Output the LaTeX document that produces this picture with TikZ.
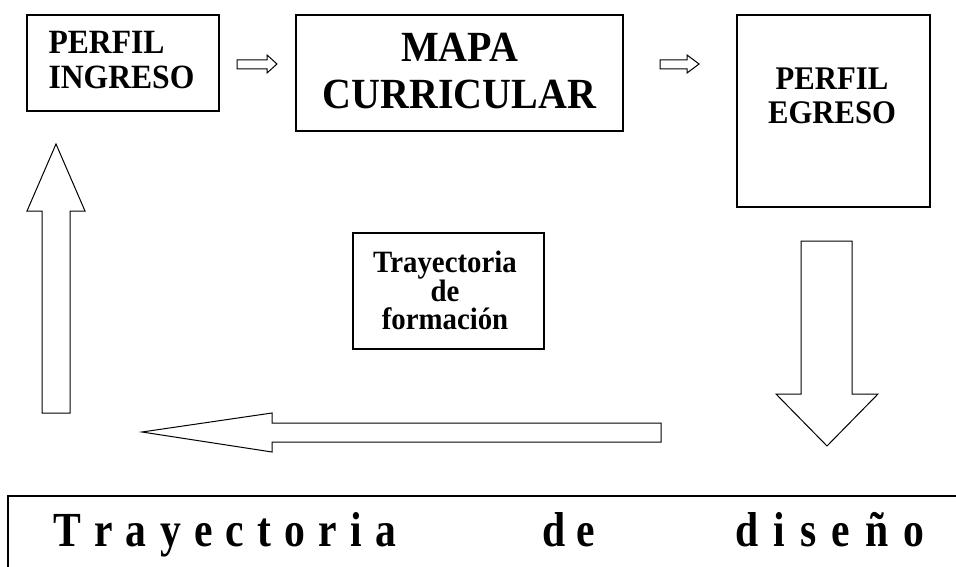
\documentclass[tikz,border=0pt]{standalone}
\usepackage{fontspec}
\setmainfont{Liberation Serif}[FakeStretch=0.93]
\newfontfamily\condfont{Liberation Serif}[FakeStretch=0.85]
\begin{document}
\begin{tikzpicture}[x=1pt,y=-1pt,
  box/.style={draw, line width=1.2pt, inner sep=0pt},
  txt/.style={inner sep=0pt, align=center},
  blockarrow/.style={draw, line width=1pt, fill=white, line join=miter},
  bigword/.style={inner sep=0pt, anchor=base west, font=\condfont\bfseries\fontsize{49}{52}\selectfont}]
\useasboundingbox[fill=white] (0,0) rectangle (956,567);

% boxes
\node[box, minimum width=192pt, minimum height=96pt] (ingreso) at (123,63) {};
\node[txt, align=left, font=\bfseries\fontsize{34}{35}\selectfont] (ingresotxt) at (121.5,60.5) {PERFIL\\INGRESO};

\node[box, minimum width=327pt, minimum height=116pt] (mapa) at (459.5,73) {};
\node[txt, font=\bfseries\fontsize{43}{47}\selectfont] (mapatxt) at (459.5,71.5) {MAPA\\CURRICULAR};

\node[box, minimum width=193pt, minimum height=192pt] (egreso) at (833.5,111) {};
\node[txt, font=\bfseries\fontsize{33}{34}\selectfont] (egresotxt) at (832,96) {PERFIL\\EGRESO};

\node[box, minimum width=191pt, minimum height=116pt] (formacion) at (448.5,291) {};
\node[txt, font=\bfseries\fontsize{31}{28}\selectfont] (formaciontxt) at (445,290.5) {Trayectoria\\de\\formación};

% small arrows
\draw[blockarrow] (237,60) -- (267,60) -- (267,55) -- (277,64) -- (267,73) -- (267,69) -- (237,69) -- cycle;
\draw[blockarrow] (660,60) -- (687,60) -- (687,55) -- (699,64) -- (687,73) -- (687,69) -- (660,69) -- cycle;

% up arrow
\draw[blockarrow] (42,413) -- (42,211) -- (27,211) -- (56,144) -- (85,211) -- (70,211) -- (70,413) -- cycle;
% down arrow
\draw[blockarrow] (801,241) -- (852,241) -- (852,394) -- (878,394) -- (827,446) -- (776,394) -- (801,394) -- cycle;
% left arrow
\draw[blockarrow] (661,423) -- (272,423) -- (272,413) -- (142,432) -- (272,452) -- (272,442) -- (661,442) -- cycle;

% bottom box
\coordinate (bl) at (8,575);
\coordinate (tl) at (8,496);
\coordinate (tr) at (962,496);
\draw[line width=1.4pt] (bl) -- (tl) -- (tr);

\node[bigword] (w1) at (53,546) {\makebox[343pt][s]{T\hfill r\hfill a\hfill y\hfill e\hfill c\hfill t\hfill o\hfill r\hfill i\hfill a}};
\node[bigword] (w2) at (542,546) {\makebox[53pt][s]{d\hfill e}};
\node[bigword] (w3) at (735,546) {\makebox[189pt][s]{d\hfill i\hfill s\hfill e\hfill ñ\hfill o}};
\end{tikzpicture}
\end{document}
